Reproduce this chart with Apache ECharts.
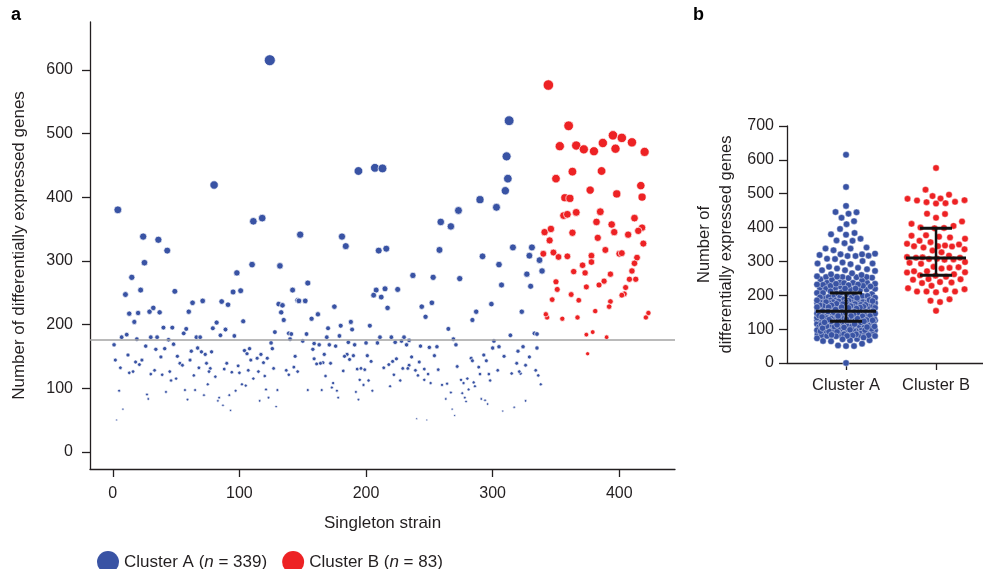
<!DOCTYPE html>
<html>
<head>
<meta charset="utf-8">
<script src="https://cdn.jsdelivr.net/npm/echarts@6/dist/echarts.min.js"></script>
<style>
html, body { margin: 0; padding: 0; background: #fff; }
#main { width: 983px; height: 569px; }
</style>
</head>
<body>
<div id="main"></div>
<script>
// [strain, number of DEGs]
var clusterA = [
  [4,380],[24,338],[36,333],[43,316],[111,362],[118,367],[148,341],[25,297],[15,274],[10,247],[22,254],[49,252],
  [13,217],[20,218],[17,204],[29,220],[32,226],[37,219],[60,220],[63,234],[71,237],[98,281],[95,251],[101,253],
  [110,294],[132,292],[142,254],[146,238],[147,237],[152,237],[86,236],[91,231],[103,205],[131,232],[134,230],
  [133,219],[135,207],[154,265],[82,203],[79,194],[89,192],[85,183],[96,182],[40,195],[47,195],[58,193],[56,186],
  [128,188],[139,186],[141,185],[153,185],[7,180],[11,184],[19,177],[30,180],[35,180],[44,176],[66,180],[69,180],
  [140,177],[150,174],[125,171],[48,169],[1,168],[26,166],[34,161],[41,162],[67,163],[62,158],[70,157],[73,153],
  [78,157],[104,159],[108,162],[106,154],[126,162],[144,150],[38,149],[51,150],[12,152],[2,144],[23,144],[18,141],
  [21,137],[6,132],[13,124],[16,126],[30,122],[33,128],[39,121],[45,126],[50,115],[46,112],[53,139],[55,136],
  [61,144],[64,120],[68,132],[74,139],[77,131],[76,126],[75,106],[81,118],[88,130],[90,139],[94,125],[99,135],
  [100,124],[102,106],[105,104],[107,128],[109,144],[111,115],[114,147],[115,126],[117,153],[119,140],[120,119],
  [122,147],[127,131],[130,97],[121,98],[123,85],[129,71],[137,128],[139,121],[143,133],[146,126],[154,97],[5,96],
  [8,67],[3,50],[27,90],[28,83],[42,94],[57,97],[59,82],[65,97],[72,89],[84,85],[83,80],[87,73],[93,65],[92,89],
  [97,96],[116,80],[124,615],[80,419],[194,441],[207,446],[213,445],
  [181,338],[184,323],[210,316],[216,319],[259,361],[267,354],[273,379],[290,396],[303,384],[258,317],[292,307],
  [305,294],[175,228],[157,209],[162,216],[237,277],[253,274],[274,272],[208,254],[215,256],[212,243],[206,246],
  [225,255],[217,226],[244,228],[247,212],[252,234],[299,232],[287,220],[284,207],[203,198],[188,204],[189,192],
  [180,198],[170,194],[169,180],[179,182],[211,180],[220,180],[230,180],[234,175],[265,193],[269,177],[301,174],
  [159,170],[163,168],[171,168],[176,166],[186,172],[191,168],[200,171],[209,171],[223,172],[228,174],[232,168],
  [243,166],[250,164],[256,165],[271,168],[300,163],[305,165],[158,161],[167,153],[185,153],[190,151],[183,150],
  [187,145],[201,151],[204,142],[214,132],[218,137],[221,142],[224,146],[236,149],[242,141],[234,136],[239,128],
  [246,130],[249,122],[254,151],[257,129],[272,134],[283,147],[284,143],[289,133],[290,122],[293,152],[295,143],
  [298,112],[297,122],[304,128],[159,146],[166,140],[161,138],[164,139],[172,139],[168,119],[182,127],[193,130],
  [196,131],[199,129],[195,113],[198,105],[202,112],[174,108],[173,101],[177,96],[178,85],[165,97],[192,94],
  [194,82],[205,96],[219,103],[222,121],[227,112],[229,131],[233,131],[241,120],[246,113],[251,108],[260,105],
  [264,107],[267,93],[263,83],[275,113],[277,108],[280,115],[285,109],[286,103],[281,98],[276,92],[278,85],
  [279,79],[291,83],[294,81],[296,75],[268,67],[270,57],[240,52],[248,50],
  [313,520],[311,464],[312,429],[310,410],
  [316,321],[331,321],[329,308],[337,301],[327,279],[339,284],[307,262],[330,260],[323,220],[333,186],[335,185],
  [314,183],[324,165],[335,163],[309,150],[320,158],[329,149],[319,139],[326,136],[315,123],[322,123],[321,126],
  [334,128],[336,120],[338,106],[326,80],[308,64],[317,70],[236,0]
];
var clusterB = [
  [344,576],[360,512],[353,480],[366,481],[372,475],[380,472],[387,485],[395,497],[402,493],[397,476],[410,486],
  [420,471],[350,429],[363,440],[386,441],[377,411],[398,405],[417,418],[418,400],[357,399],[361,398],[356,371],
  [359,373],[366,376],[385,377],[382,361],[394,357],[396,345],[412,367],[418,352],[415,347],[407,341],[419,327],
  [341,345],[346,350],[345,332],[363,344],[383,336],[389,317],[340,311],[348,313],[352,306],[359,307],[378,308],
  [400,311],[402,312],[414,305],
  [371,293],[378,298],[364,283],[373,281],[393,279],[388,268],[384,262],[374,259],[350,267],[351,255],[362,247],
  [347,239],[368,238],[410,284],[408,271],[413,271],[412,296],[405,258],[404,248],[402,246],[393,236],[392,228],
  [381,221],[367,211],[355,209],[343,211],[342,216],[423,218],[421,211],[374,184],[379,188],[390,180],[375,154]
];
var clusterNames = ['Cluster A', 'Cluster B'];
var clusterN = [339, 83];
var clusterPos = [1, 2];
// median and interquartile range, panel b
var medians = [153, 310];
var lowerQ = [123, 259];
var upperQ = [207, 398];
var cutoff = 176;
var xTicksA = [0, 100, 200, 300, 400];
var yTicksA = [0, 100, 200, 300, 400, 500, 600];

var blue = '#3953a4', red = '#ed2224', ink = '#231f20';
var font = 'Liberation Sans, Arial, Helvetica, sans-serif';

// dot area grows with the number of genes
function dotSize(v) {
  return 0.123 * Math.pow(Math.max(v[1], 1), 0.7);
}

var chart = echarts.init(document.getElementById('main'));

var axisBase = {
  axisLine: { onZero: false, lineStyle: { color: ink, width: 1.3 } },
  axisTick: { lineStyle: { color: ink, width: 1.3 }, length: 8 },
  axisLabel: { color: ink, fontSize: 16, fontFamily: font },
  splitLine: { show: false },
  nameTextStyle: { color: ink, fontSize: 17, fontFamily: font }
};

chart.setOption({
  animation: false,
  textStyle: { fontFamily: font },
  graphic: [
    { type: 'text', left: 11, top: 6, style: { text: 'a', font: 'bold 18px ' + font, fill: '#000' } },
    { type: 'text', left: 693, top: 6, style: { text: 'b', font: 'bold 18px ' + font, fill: '#000' } }
  ],
  legend: {
    data: clusterNames,
    left: 92, top: 546,
    icon: 'circle',
    itemWidth: 22, itemHeight: 22, itemGap: 15,
    itemStyle: { borderWidth: 0 },
    formatter: function (name) {
      var n = clusterN[clusterNames.indexOf(name)];
      return '{t|' + name + ' (}{i|n}{t| = ' + n + ')}';
    },
    textStyle: {
      color: ink, fontSize: 17,
      rich: {
        t: { fontSize: 17, fontFamily: font, color: ink },
        i: { fontSize: 17, fontFamily: font, color: ink, fontStyle: 'italic' }
      }
    }
  },
  grid: [
    { left: 90, top: 22, width: 585, height: 447 },
    { left: 787, top: 126, width: 196, height: 237 }
  ],
  xAxis: [
    echarts.util.merge({
      gridIndex: 0, type: 'value', min: -18, max: 444,
      name: 'Singleton strain', nameLocation: 'middle', nameGap: 46,
      axisTick: { customValues: xTicksA },
      axisLabel: { customValues: xTicksA, margin: 17 }
    }, axisBase),
    echarts.util.merge({
      gridIndex: 1, type: 'value', min: 0.344, max: 2.522,
      axisTick: { customValues: clusterPos, length: 7 },
      axisLabel: {
        customValues: clusterPos, margin: 14, fontSize: 16.5,
        formatter: function (v) { return clusterNames[Math.round(v) - 1]; }
      }
    }, axisBase)
  ],
  yAxis: [
    echarts.util.merge({
      gridIndex: 0, type: 'value', min: -27, max: 675,
      name: 'Number of differentially expressed genes', nameLocation: 'middle', nameGap: 62,
      axisTick: { customValues: yTicksA },
      axisLabel: { customValues: yTicksA, margin: 17 }
    }, axisBase),
    echarts.util.merge({
      gridIndex: 1, type: 'value', min: 0, max: 700, interval: 100,
      name: 'Number of\ndifferentially expressed genes', nameLocation: 'middle', nameGap: 50,
      nameTextStyle: { fontSize: 16.5, lineHeight: 22 },
      axisTick: { length: 8 },
      axisLabel: { margin: 13 }
    }, axisBase)
  ],
  series: [
    {
      name: clusterNames[0], type: 'scatter', xAxisIndex: 0, yAxisIndex: 0,
      data: clusterA, symbolSize: dotSize,
      itemStyle: { color: blue, borderColor: '#fff', borderWidth: 0.7, opacity: 1 },
      markLine: {
        silent: true, symbol: 'none', label: { show: false },
        lineStyle: { color: '#a3a3a3', width: 1.5, type: 'solid' },
        data: [{ yAxis: cutoff }]
      }
    },
    {
      name: clusterNames[1], type: 'scatter', xAxisIndex: 0, yAxisIndex: 0,
      data: clusterB, symbolSize: dotSize,
      itemStyle: { color: red, borderColor: '#fff', borderWidth: 0.7, opacity: 1 }
    },
    { name: clusterNames[0], type: 'scatter', xAxisIndex: 1, yAxisIndex: 1, data: [] },
    { name: clusterNames[1], type: 'scatter', xAxisIndex: 1, yAxisIndex: 1, data: [] },
    {
      name: 'IQR', type: 'custom', xAxisIndex: 1, yAxisIndex: 1, z: 10,
      data: clusterPos.map(function (p, i) { return [p, medians[i], lowerQ[i], upperQ[i]]; }),
      encode: { x: 0, y: 1 },
      renderItem: function (params, api) {
        var x = api.value(0);
        var m = api.coord([x, api.value(1)]);
        var lo = api.coord([x, api.value(2)]);
        var hi = api.coord([x, api.value(3)]);
        var st = { stroke: '#111', lineWidth: 3 };
        return {
          type: 'group',
          children: [
            { type: 'line', shape: { x1: m[0] - 30, y1: m[1], x2: m[0] + 30, y2: m[1] }, style: st },
            { type: 'line', shape: { x1: lo[0] - 16, y1: lo[1], x2: lo[0] + 16, y2: lo[1] }, style: st },
            { type: 'line', shape: { x1: hi[0] - 16, y1: hi[1], x2: hi[0] + 16, y2: hi[1] }, style: st },
            { type: 'line', shape: { x1: lo[0], y1: lo[1], x2: hi[0], y2: hi[1] }, style: { stroke: '#111', lineWidth: 2.5 } }
          ]
        };
      }
    }
  ]
});

// beeswarm layout for panel b, in pixels, then back to axis units
function swarm(pys, d, maxHalf) {
  var order = pys.map(function (p, i) { return i; });
  order.sort(function (a, b) { return pys[b] - pys[a]; });
  var placed = [], off = [];
  order.forEach(function (i) {
    var y = pys[i], best = 0, bestD = -1, done = false;
    for (var k = 0; k <= maxHalf * 4 && !done; k++) {
      var c = (k % 2 === 1 ? 1 : -1) * Math.ceil(k / 2) * 0.5;
      var md = Infinity;
      for (var j = 0; j < placed.length; j++) {
        var dy = placed[j][1] - y;
        if (Math.abs(dy) >= d) continue;
        var dd = Math.sqrt((placed[j][0] - c) * (placed[j][0] - c) + dy * dy);
        if (dd < md) md = dd;
      }
      if (md >= d) { best = c; done = true; }
      else if (md > bestD) { bestD = md; best = c; }
    }
    off[i] = best;
    placed.push([best, y]);
  });
  return off;
}

var unit = chart.convertToPixel({ gridIndex: 1 }, [2, 0])[0] - chart.convertToPixel({ gridIndex: 1 }, [1, 0])[0];

function swarmData(list, pos, d) {
  var vals = list.map(function (p) { return p[1]; });
  var pys = vals.map(function (v) { return chart.convertToPixel({ gridIndex: 1 }, [pos, v])[1]; });
  var off = swarm(pys, d, 29);
  return vals.map(function (v, i) { return [pos + off[i] / unit, v]; });
}

chart.setOption({
  series: [
    {}, {},
    {
      data: swarmData(clusterA, clusterPos[0], 8), symbolSize: 6.5,
      itemStyle: { color: blue, borderColor: '#fff', borderWidth: 0.4, opacity: 1 }
    },
    {
      data: swarmData(clusterB, clusterPos[1], 9.5), symbolSize: 6.5,
      itemStyle: { color: red, borderColor: '#fff', borderWidth: 0.4, opacity: 1 }
    }
  ]
});
</script>
</body>
</html>
